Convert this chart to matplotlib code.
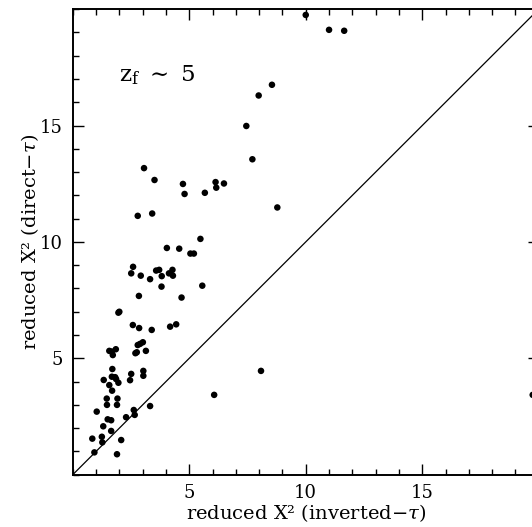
#!/usr/bin/env python3
"""Reduced chi^2 of direct-tau vs inverted-tau fits, z_f ~ 5."""

import matplotlib
matplotlib.use("Agg")
import matplotlib.pyplot as plt
from matplotlib.ticker import MultipleLocator

# reduced X^2 (inverted-tau)
chi2_inverted = [
    10.00, 11.00, 11.65, 8.55, 7.98, 7.45, 7.71, 8.78, 19.74,
    3.06, 3.51, 4.73, 4.80, 6.13, 6.16, 6.49, 5.67, 2.79, 3.41,
    5.48, 4.04, 4.57, 5.05, 5.20, 2.59, 2.51, 2.92, 3.32, 3.58,
    3.71, 3.82, 4.13, 4.28, 4.30, 3.81, 5.56, 2.84, 4.67,
    2.00, 1.96, 2.58, 2.85, 3.39, 4.18, 4.44, 2.79, 2.89, 3.01,
    2.69, 2.75, 3.14, 1.57, 1.68, 1.85, 1.72, 1.70, 1.33, 1.57,
    1.68, 1.82, 1.86, 1.96, 2.51, 2.46, 3.03, 3.03, 1.69, 1.46,
    1.92, 1.47, 1.90, 1.03, 3.32, 2.62, 2.66, 2.29, 1.50, 1.65,
    1.31, 1.65, 0.84, 1.25, 1.27, 2.08, 0.93, 1.90, 6.07, 8.08,
]
# reduced X^2 (direct-tau)
chi2_direct = [
    19.75, 19.11, 19.07, 16.75, 16.29, 14.98, 13.55, 11.48, 3.43,
    13.17, 12.66, 12.49, 12.06, 12.57, 12.33, 12.51, 12.11, 11.12, 11.22,
    10.13, 9.74, 9.71, 9.50, 9.50, 8.93, 8.65, 8.55, 8.40, 8.77,
    8.80, 8.53, 8.65, 8.80, 8.55, 8.08, 8.12, 7.68, 7.61,
    7.00, 6.96, 6.43, 6.30, 6.22, 6.36, 6.46, 5.57, 5.62, 5.69,
    5.22, 5.26, 5.32, 5.32, 5.29, 5.39, 5.14, 4.54, 4.07, 3.85,
    4.21, 4.19, 4.11, 3.95, 4.33, 4.06, 4.46, 4.25, 3.61, 3.27,
    3.27, 3.00, 3.00, 2.71, 2.95, 2.78, 2.57, 2.47, 2.38, 2.34,
    2.08, 1.88, 1.55, 1.63, 1.39, 1.49, 0.96, 0.88, 3.43, 4.46,
]

LIMITS = (0, 20)
TICKS = [5, 10, 15]

plt.rcParams["font.family"] = ["DejaVu Serif"]
plt.rcParams["mathtext.fontset"] = "dejavuserif"

fig = plt.figure(figsize=(5.32, 5.27), dpi=100)
# axes run a little past the right edge, as in the cropped original
ax = fig.add_axes([0.1367, 0.0992, 0.876, 0.8835])

ax.scatter(chi2_inverted, chi2_direct, s=22, color="black",
           edgecolors="none", zorder=3, clip_on=True)
ax.plot(LIMITS, LIMITS, color="black", lw=0.9)

ax.set_xlim(*LIMITS)
ax.set_ylim(*LIMITS)
ax.set_xticks(TICKS)
ax.set_yticks(TICKS)
ax.xaxis.set_minor_locator(MultipleLocator(1))
ax.yaxis.set_minor_locator(MultipleLocator(1))
ax.tick_params(which="both", direction="in", top=True, right=True,
               labelsize=13, width=1.0, pad=7)
ax.tick_params(which="major", length=8)
ax.tick_params(which="minor", length=4)
for sp in ax.spines.values():
    sp.set_linewidth(1.4)

ax.set_xlabel("reduced X² (inverted$-\\tau$)", fontsize=14, labelpad=0)
ax.set_ylabel("reduced X² (direct$-\\tau$)", fontsize=14, labelpad=-1)

ax.text(0.10, 0.858, r"z$_{\rm f}$ $\sim$ 5", transform=ax.transAxes,
        fontsize=16.5, ha="left", va="center")

fig.savefig("out.png", dpi=100)
